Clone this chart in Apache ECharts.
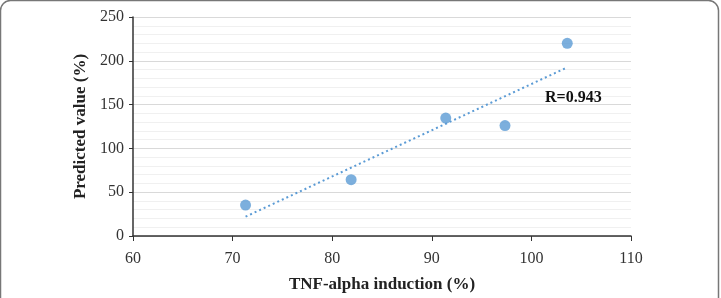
<!DOCTYPE html>
<html>
<head>
<meta charset="utf-8">
<script src="https://cdn.jsdelivr.net/npm/echarts@6/dist/echarts.min.js"></script>
<style>html,body{margin:0;padding:0;background:#fff;}#c{width:721px;height:298px;}</style>
</head>
<body>
<div id="c"></div>
<script>
var tnfInduction = [71.3, 81.9, 91.4, 97.35, 103.6];
var predictedValue = [35.3, 64.3, 134.6, 126, 220];
var xTicks = [60, 70, 80, 90, 100, 110];
var yTicks = [0, 50, 100, 150, 200, 250];
var rLabel = 'R=0.943';

// least-squares trendline through the data (as in the original spreadsheet chart)
var n = tnfInduction.length, mx = 0, my = 0;
for (var i = 0; i < n; i++) { mx += tnfInduction[i]; my += predictedValue[i]; }
mx /= n; my /= n;
var sxy = 0, sxx = 0;
for (var i = 0; i < n; i++) { sxy += (tnfInduction[i]-mx)*(predictedValue[i]-my); sxx += (tnfInduction[i]-mx)*(tnfInduction[i]-mx); }
var slope = sxy / sxx, icpt = my - slope * mx;
var xMin = Math.min.apply(null, tnfInduction), xMax = Math.max.apply(null, tnfInduction);
var trend = [[xMin, icpt + slope * xMin], [xMax, icpt + slope * xMax]];

var pts = tnfInduction.map(function (x, i) { return [x, predictedValue[i]]; });
var font = '"Liberation Serif", "Times New Roman", serif';
var chart = echarts.init(document.getElementById('c'));
chart.setOption({
  animation: false,
  backgroundColor: '#fff',
  grid: { left: 133, right: 90, top: 17, bottom: 55 },
  xAxis: {
    type: 'value', min: xTicks[0], max: xTicks[xTicks.length-1], interval: 10,
    name: 'TNF-alpha induction (%)', nameLocation: 'middle', nameGap: 40,
    nameTextStyle: { fontFamily: font, fontWeight: 'bold', fontSize: 17, color: '#222' },
    axisLine: { show: true, lineStyle: { color: '#333', width: 1.5 } },
    axisTick: { show: true, length: 5, lineStyle: { color: '#333' } },
    axisLabel: { fontFamily: font, fontSize: 16, color: '#333', margin: 15 },
    splitLine: { show: false }
  },
  yAxis: {
    type: 'value', min: yTicks[0], max: yTicks[yTicks.length-1], interval: 50,
    name: 'Predicted value (%)', nameLocation: 'middle', nameGap: 43,
    nameTextStyle: { fontFamily: font, fontWeight: 'bold', fontSize: 17, color: '#222' },
    axisLine: { show: true, lineStyle: { color: '#333', width: 1.5 } },
    axisTick: { show: true, length: 4, lineStyle: { color: '#333' } },
    axisLabel: { fontFamily: font, fontSize: 16, color: '#333', margin: 9 },
    splitLine: { show: true, lineStyle: { color: '#d9d9d9', width: 1 } },
    minorTick: { show: false, splitNumber: 5 },
    minorSplitLine: { show: true, lineStyle: { color: '#f0f0f0', width: 1 } }
  },
  series: [
    {
      type: 'line', data: trend, showSymbol: false, symbol: 'none',
      lineStyle: { color: '#5b9bd5', width: 2, type: [2, 3] }, z: 2, silent: true
    },
    {
      type: 'scatter', data: pts, symbolSize: 11,
      itemStyle: { color: '#5b9bd5' }, z: 3
    }
  ],
  graphic: [
    { type: 'text', left: 545, top: 90, z: 100, style: { text: rLabel, font: 'bold 16px ' + font, fill: '#111' } },
    { type: 'rect', shape: { x: 0.5, y: 0.5, width: 718, height: 330, r: 10 }, style: { fill: 'none', stroke: '#777', lineWidth: 1.5 }, silent: true }
  ]
});
</script>
</body>
</html>
